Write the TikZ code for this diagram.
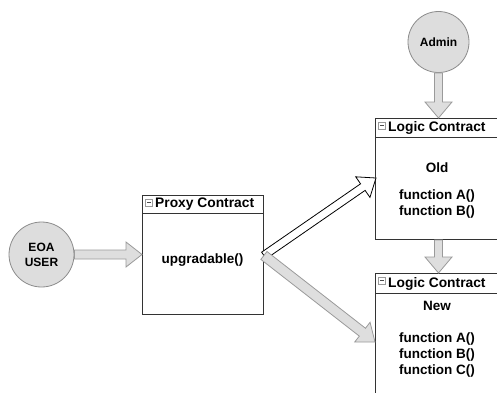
\documentclass[tikz,border=0pt]{standalone}
\usepackage{fontspec}
\setmainfont{Liberation Sans}
\usetikzlibrary{calc}
\definecolor{circfill}{HTML}{DDDDDD}
\definecolor{circline}{HTML}{8C8C8C}
\definecolor{arrfill}{HTML}{DEDEDE}
\definecolor{arrline}{HTML}{9A9A9A}
\definecolor{boxline}{HTML}{333333}
\newcommand{\blockarrow}[5]{%
  \coordinate (ba-base) at ($(#3)!16pt!(#2)$);
  \draw[#1] ($(#2)!#4!90:(#3)$) -- ($(ba-base)!#4!-90:(#2)$) -- ($(ba-base)!#5!-90:(#2)$) -- (#3)
    -- ($(ba-base)!#5!90:(#2)$) -- ($(ba-base)!#4!90:(#2)$) -- ($(#2)!#4!-90:(#3)$) -- cycle;
}
\newcommand{\collapseicon}[1]{%
  \draw[arrline, fill=white, line width=0.6pt] ($(#1)+(3.5,4)$) rectangle ++(7,7);
  \draw[black!70, line width=0.8pt] ($(#1)+(5,7.5)$) -- ++(4,0);
}
\begin{document}
\begin{tikzpicture}[x=1pt, y=-1pt,
  circ/.style={circle, draw=circline, fill=circfill, line width=0.8pt, inner sep=0pt,
    font=\fontsize{12}{15}\selectfont\bfseries, align=center},
  box/.style={draw=boxline, fill=white, line width=0.9pt, inner sep=0pt},
  head/.style={anchor=west, inner sep=0pt, font=\fontsize{13.8}{16}\selectfont\bfseries},
  body/.style={inner sep=0pt, align=center, font=\fontsize{13.5}{16}\selectfont\bfseries},
  greyarrow/.style={fill=arrfill, draw=arrline, line width=0.8pt, line join=miter},
  whitearrow/.style={fill=white, draw=black, line width=0.8pt, line join=miter}]
\useasboundingbox (0,0) rectangle (497,392);
\clip (0,0) rectangle (497,392);

% circles
\node[circ, minimum size=65pt] (eoa) at (41.5,254.5) {EOA\\USER};
\node[circ, minimum size=61pt] (admin) at (438.5,42) {Admin};

% boxes
\node[box, minimum width=121pt, minimum height=119pt, anchor=north west] (proxy) at (142,195) {};
\node[box, minimum width=124pt, minimum height=121pt, anchor=north west] (old) at (375,118) {};
\node[box, minimum width=124pt, minimum height=140pt, anchor=north west] (new) at (375,273) {};

% header lines
\draw[boxline, line width=0.9pt] ($(proxy.north west)+(0,18)$) -- ($(proxy.north east)+(0,18)$);
\draw[boxline, line width=0.9pt] ($(old.north west)+(0,19)$) -- ($(old.north east)+(0,19)$);
\draw[boxline, line width=0.9pt] ($(new.north west)+(0,20)$) -- ($(new.north east)+(0,20)$);

% header texts
\collapseicon{proxy.north west}
\node[head] (proxyhead) at ($(proxy.north west)+(13,9.5)$) {Proxy Contract};
\collapseicon{old.north west}
\node[head] (oldhead) at ($(old.north west)+(13,10)$) {Logic Contract};
\collapseicon{new.north west}
\node[head] (newhead) at ($(new.north west)+(13,10.5)$) {Logic Contract};

% body texts
\node[body] (upg) at (202.5,260) {upgradable()};
\node[body] (oldname) at (437,168) {Old};
\node[body, anchor=north] (oldfun) at (437,190) {function A()\\function B()};
\node[body] (newname) at (437,306) {New};
\node[body, anchor=north] (newfun) at (437,333) {function A()\\function B()\\function C()};

% connector end points
\coordinate (eoaout) at (eoa.east);
\coordinate (proxyin) at (proxy.west |- eoa.east);
\coordinate (adminout) at (admin.south);
\coordinate (oldin) at (old.north -| admin.south);
\coordinate (oldout) at (old.south -| admin.south);
\coordinate (newin) at (new.north -| admin.south);
\coordinate (proxyout) at ($(proxy.east)+(0,0.5)$);
\coordinate (oldleft) at ($(old.north west)+(1,60)$);
\coordinate (newleft) at ($(new.north west)+(0,69)$);

% arrows
\blockarrow{greyarrow}{eoaout}{proxyin}{4.5pt}{12.5pt}
\blockarrow{greyarrow}{adminout}{oldin}{4pt}{13.5pt}
\blockarrow{greyarrow}{oldout}{newin}{4pt}{13.5pt}
\blockarrow{whitearrow}{proxyout}{oldleft}{4pt}{12.5pt}
\blockarrow{greyarrow}{proxyout}{newleft}{5pt}{12.5pt}
\end{tikzpicture}
\end{document}
